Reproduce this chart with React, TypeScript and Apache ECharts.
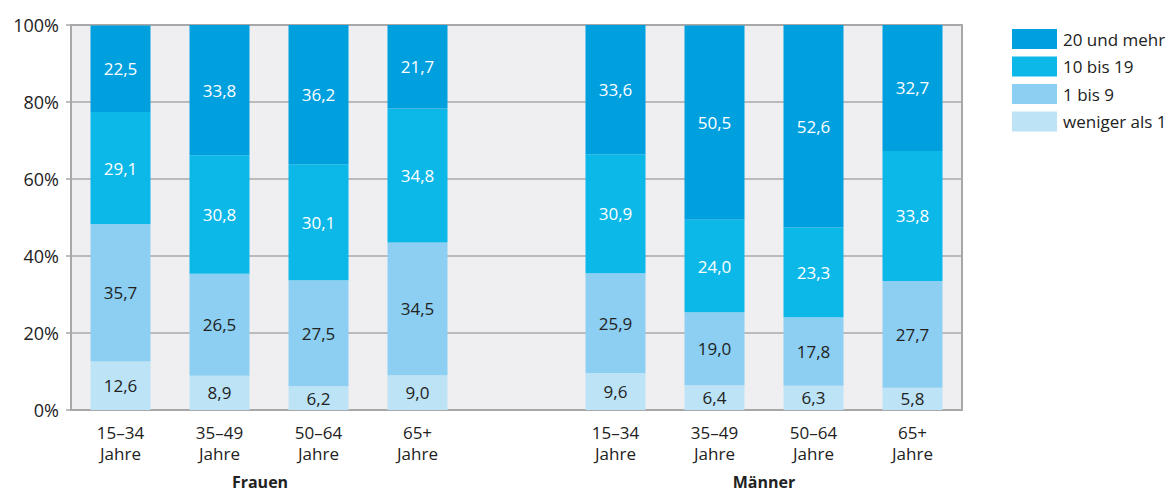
import React, { useEffect, useRef } from "react";
import * as echarts from "echarts";

const categories = ["15–34\nJahre", "35–49\nJahre", "50–64\nJahre", "65+\nJahre", "", "15–34\nJahre", "35–49\nJahre", "50–64\nJahre", "65+\nJahre"];
const seriesNames = ["weniger als 1", "1 bis 9", "10 bis 19", "20 und mehr"];
const wenigerAls1 = [12.6, 8.9, 6.2, 9.0, null, 9.6, 6.4, 6.3, 5.8];
const bis9 = [35.7, 26.5, 27.5, 34.5, null, 25.9, 19.0, 17.8, 27.7];
const bis19 = [29.1, 30.8, 30.1, 34.8, null, 30.9, 24.0, 23.3, 33.8];
const undMehr = [22.5, 33.8, 36.2, 21.7, null, 33.6, 50.5, 52.6, 32.7];
const yTicks = [0, 20, 40, 60, 80, 100];
const groupLabels = ["Frauen", "Männer"];

const colors = ["#bde3f7", "#8ccff2", "#0cb8e8", "#00a0df"];
const labelColors = ["#222222", "#222222", "#ffffff", "#ffffff"];
const FONT = "'Open Sans', 'Noto Sans', sans-serif";

export default function App() {
  const ref = useRef<HTMLDivElement>(null);
  useEffect(() => {
    const chart = echarts.init(ref.current!, null, { renderer: "svg" });
    const dataSets = [wenigerAls1, bis9, bis19, undMehr];
    chart.setOption({
      animation: false,
      textStyle: { fontFamily: FONT },
      grid: {
        left: 71,
        right: 206,
        top: 25,
        bottom: 82,
        show: true,
        backgroundColor: "#efeff2",
        borderColor: "#a8a8a8",
        borderWidth: 2,
      },
      legend: {
        data: [...seriesNames].reverse(),
        orient: "vertical",
        left: 1007,
        top: 24,
        itemWidth: 45,
        itemHeight: 20,
        itemGap: 7.5,
        icon: "rect",
        textStyle: { fontFamily: FONT, fontSize: 17, color: "#222", padding: [0, 0, 0, 1] },
      },
      xAxis: {
        type: "category",
        data: categories,
        axisTick: { show: false },
        axisLine: { lineStyle: { color: "#a8a8a8", width: 2 } },
        axisLabel: { fontFamily: FONT, fontSize: 17, color: "#222", lineHeight: 21, margin: 12 },
      },
      yAxis: {
        type: "value",
        min: 0,
        max: 100,
        interval: 20,
        axisLine: { show: true, lineStyle: { color: "#a8a8a8", width: 2 } },
        axisTick: { show: true, length: 5, lineStyle: { color: "#a8a8a8", width: 1.5 } },
        splitLine: { lineStyle: { color: "#a8a8a8", width: 1.5 } },
        axisLabel: {
          fontFamily: FONT,
          fontSize: 18,
          color: "#222",
          margin: 12,
          formatter: (v: number) => (yTicks.includes(v) ? v + "%" : ""),
        },
      },
      series: seriesNames.map((name, i) => ({
        name,
        type: "bar",
        stack: "total",
        barWidth: 60,
        data: dataSets[i].map((v) => (v === null ? "-" : v)),
        itemStyle: { color: colors[i] },
        label: {
          show: true,
          position: "inside",
          fontFamily: FONT,
          fontSize: 17,
          color: labelColors[i],
          formatter: (p: any) => String(p.value.toFixed(1)).replace(".", ","),
        },
      })),
      graphic: [
        { type: "text", x: 260, y: 482, style: { text: groupLabels[0], font: `bold 16px ${FONT}`, fill: "#222", textAlign: "center", textVerticalAlign: "middle" } },
        { type: "text", x: 764, y: 482, style: { text: groupLabels[1], font: `bold 16px ${FONT}`, fill: "#222", textAlign: "center", textVerticalAlign: "middle" } },
      ],
    });
    return () => chart.dispose();
  }, []);
  return <div ref={ref} style={{ width: 1168, height: 492, position: "absolute", left: 0, top: 0 }} />;
}
